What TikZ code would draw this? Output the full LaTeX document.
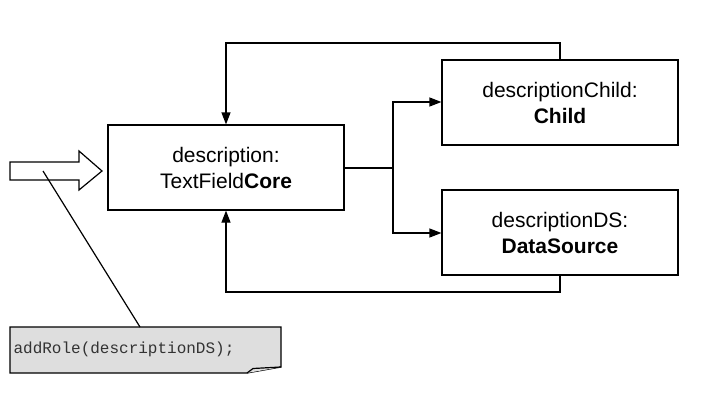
\documentclass[tikz,border=0pt]{standalone}
\usepackage{fontspec}
\setmainfont{Liberation Sans}
\setmonofont{Liberation Mono}
\usetikzlibrary{arrows.meta}
\begin{document}
\begin{tikzpicture}[x=1pt,y=-1pt,
  line width=1.2pt,
  boxstyle/.style={draw,minimum width=236pt,minimum height=85pt,align=center,inner sep=0pt,font=\fontsize{21}{26}\selectfont},
  conn/.style={-{Triangle[length=12pt,width=9pt]}}]
\useasboundingbox (0,0) rectangle (707,412);
\node[boxstyle] (core) at (226,167.5) {description:\\TextField\textbf{Core}};
\node[boxstyle] (child) at (560,102.5) {descriptionChild:\\\textbf{Child}};
\node[boxstyle] (ds) at (560,232.5) {descriptionDS:\\\textbf{DataSource}};
\coordinate (split) at (393,168);
\draw (core.east |- split) -- (split);
\draw[conn] (split) |- (child.west |- 0,102);
\draw[conn] (split) |- (ds.west |- 0,233);
\draw[conn] (child.north) -- (560,43) -| (core.north);
\draw[conn] (ds.south) -- (560,292) -| (core.south);
% block arrow
\draw (10,162) -- (79,162) -- (79,151) -- (102,171) -- (79,190) -- (79,180) -- (10,180) -- cycle;
\coordinate (arrowpt) at (43,171);
% note
\draw[fill=black!13] (10,327) -- (281,327) -- (281,367) -- (247,373) -- (10,373) -- cycle;
\draw[fill=black!13] (247,373) -- (253,368.5) -- (281,367);
\node[anchor=west,inner sep=0pt,font=\ttfamily\fontsize{16}{19}\selectfont,text=black!80] (note) at (13,349) {addRole(descriptionDS);};
\coordinate (notetop) at (140,327);
\draw (arrowpt) -- (notetop);
\end{tikzpicture}
\end{document}
